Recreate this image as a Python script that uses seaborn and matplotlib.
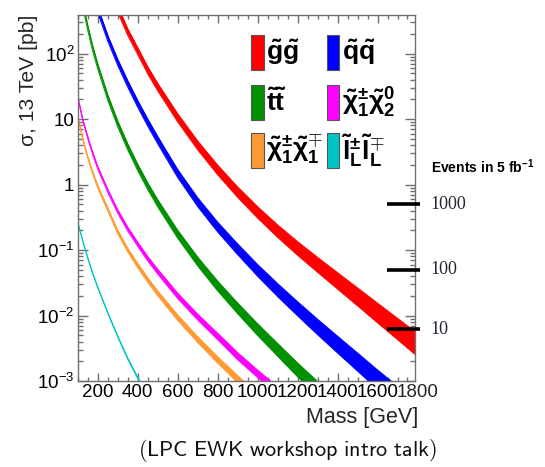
import matplotlib
matplotlib.use("Agg")
import matplotlib.pyplot as plt
import matplotlib.transforms as mtransforms
import seaborn as sns
from matplotlib.patches import Rectangle
from matplotlib.ticker import FixedLocator, FixedFormatter, MultipleLocator, LogLocator, NullFormatter

# ---- cross sections at 13 TeV [pb]; band = multiplicative half-width ----
mass_gg = [250, 300, 350, 400, 450, 500, 600, 700, 800, 900, 1000, 1100, 1200, 1300, 1400, 1500, 1600, 1700, 1800]
xs_gg = [1150, 480, 215, 110, 56, 31, 10.5, 3.98, 1.68, 0.767, 0.376, 0.195, 0.106, 0.0596, 0.0339, 0.0193, 0.01096, 0.00624, 0.00355]
band_gg = [1.122, 1.122, 1.127, 1.132, 1.138, 1.143, 1.156, 1.170, 1.186, 1.202, 1.222, 1.245, 1.271, 1.300, 1.334, 1.371, 1.413, 1.455, 1.500]

mass_qq = [150, 200, 250, 300, 350, 400, 450, 500, 600, 700, 800, 900, 1000, 1100, 1200, 1300, 1400, 1500, 1600, 1700]
xs_qq = [1900, 470, 174, 74, 34.7, 17.2, 8.9, 4.8, 1.48, 0.54, 0.225, 0.103, 0.049, 0.0245, 0.0127, 0.0067, 0.0036, 0.00195, 0.00105, 0.00058]
band_qq = [1.109, 1.109, 1.114, 1.119, 1.125, 1.130, 1.135, 1.140, 1.153, 1.169, 1.189, 1.208, 1.230, 1.256, 1.282, 1.312, 1.343, 1.374, 1.406, 1.439]

mass_tt = [100, 125, 150, 175, 200, 250, 300, 350, 400, 450, 500, 600, 700, 800, 900, 1000, 1100, 1200, 1300]
xs_tt = [1520, 575, 250, 120, 64.5, 21.6, 8.5, 3.79, 1.84, 0.95, 0.52, 0.175, 0.067, 0.0283, 0.0129, 0.0061, 0.0030, 0.00148, 0.00076]
band_tt = [1.096, 1.096, 1.096, 1.099, 1.102, 1.107, 1.112, 1.117, 1.122, 1.130, 1.138, 1.153, 1.170, 1.189, 1.208, 1.230, 1.253, 1.276, 1.300]

mass_c1n2 = [100, 125, 150, 175, 200, 250, 300, 350, 400, 450, 500, 600, 700, 800, 900, 1000, 1100]
xs_c1n2 = [22, 9.8, 5.25, 3.0, 1.82, 0.81, 0.39, 0.21, 0.123, 0.074, 0.047, 0.020, 0.0095, 0.0048, 0.0024, 0.00129, 0.00071]
band_c1n2 = [1.035, 1.035, 1.042, 1.047, 1.052, 1.059, 1.067, 1.072, 1.079, 1.084, 1.091, 1.10, 1.11, 1.12, 1.135, 1.14, 1.15]

mass_c1c1 = [100, 125, 150, 175, 200, 250, 300, 350, 400, 450, 500, 600, 700, 800, 900, 1000]
xs_c1c1 = [11.2, 5.0, 2.63, 1.51, 0.93, 0.42, 0.19, 0.100, 0.058, 0.035, 0.0219, 0.0093, 0.0043, 0.0021, 0.00107, 0.00056]
band_c1c1 = [1.035, 1.035, 1.042, 1.047, 1.052, 1.059, 1.067, 1.072, 1.079, 1.084, 1.091, 1.10, 1.11, 1.12, 1.135, 1.14]

mass_slep = [100, 125, 150, 175, 200, 250, 300, 350, 400, 450]
xs_slep = [0.27, 0.138, 0.076, 0.044, 0.027, 0.011, 0.0048, 0.0022, 0.00112, 0.00058]
band_slep = [1.015, 1.015, 1.015, 1.02, 1.02, 1.02, 1.025, 1.025, 1.03, 1.03]

labels = [r"$\mathbf{\tilde{g}\tilde{g}}$", r"$\mathbf{\tilde{q}\tilde{q}}$",
          r"$\mathbf{\tilde{t}\tilde{t}}$", r"$\mathbf{\tilde{\chi}^{\pm}_{1}\tilde{\chi}^{0}_{2}}$",
          r"$\mathbf{\tilde{\chi}^{\pm}_{1}\tilde{\chi}^{\mp}_{1}}$", r"$\mathbf{\tilde{l}^{\pm}_{L}\tilde{l}^{\mp}_{L}}$"]
colors = ["#ff0000", "#0000ff", "#009000", "#ff00ff", "#ff9933", "#00c4c4"]

# events-per-5/fb reference marks
event_counts = ["1000", "100", "10"]
event_xsec = [0.5, 0.05, 0.0062]

y_ticks = [1e-3, 1e-2, 1e-1, 1, 10, 100]
y_ticklabels = [r"$10^{-3}$", r"$10^{-2}$", r"$10^{-1}$", "1", "10", r"$10^{2}$"]

sns.set_theme(style="ticks")
plt.rcParams["font.family"] = ["Liberation Sans", "DejaVu Sans"]
plt.rcParams["mathtext.fontset"] = "custom"
plt.rcParams["mathtext.rm"] = "Liberation Sans"
plt.rcParams["mathtext.it"] = "Liberation Sans:italic"
plt.rcParams["mathtext.bf"] = "Liberation Sans:bold"
plt.rcParams["mathtext.sf"] = "Liberation Sans"

fig = plt.figure(figsize=(5.45, 4.67), dpi=100)
ax = fig.add_axes([0.1426, 0.1842, 0.6183, 0.7843])

series = [
    (mass_gg, xs_gg, band_gg),
    (mass_qq, xs_qq, band_qq),
    (mass_tt, xs_tt, band_tt),
    (mass_c1n2, xs_c1n2, band_c1n2),
    (mass_c1c1, xs_c1c1, band_c1c1),
    (mass_slep, xs_slep, band_slep),
]

for (m, xs, bd), c in zip(series, colors):
    hi = [x * b for x, b in zip(xs, bd)]
    lo = [x / b for x, b in zip(xs, bd)]
    ax.fill_between(m, lo, hi, color=c, lw=0, zorder=2)
    sns.lineplot(x=m, y=hi, color=c, lw=0.7, ax=ax, zorder=2)
    sns.lineplot(x=m, y=lo, color=c, lw=0.7, ax=ax, zorder=2)

ax.set_yscale("log")
ax.set_xlim(100, 1786)
ax.set_ylim(1e-3, 10 ** 2.595)

# axis styling
frame_c = "#707070"
for s in ax.spines.values():
    s.set_color(frame_c)
    s.set_linewidth(1.0)
ax.xaxis.set_major_locator(MultipleLocator(200))
ax.xaxis.set_minor_locator(MultipleLocator(50))
ax.yaxis.set_major_locator(FixedLocator(y_ticks))
ax.yaxis.set_major_formatter(FixedFormatter(y_ticklabels))
ax.yaxis.set_minor_locator(LogLocator(base=10, subs=range(2, 10)))
ax.yaxis.set_minor_formatter(NullFormatter())
ax.tick_params(axis="both", which="both", direction="in", top=True, right=True,
               color=frame_c, labelsize=13.5, labelcolor="black", pad=2.5)
ax.tick_params(axis="x", which="major", length=6, width=1)
ax.tick_params(axis="x", which="minor", length=3, width=1)
ax.tick_params(axis="y", which="major", length=7.5, width=1)
ax.tick_params(axis="y", which="minor", length=3.8, width=1)

# the 1800 label sits just past the frame edge
lab_tr = mtransforms.offset_copy(ax.get_xaxis_transform(), fig=fig, y=-2.5, units="points")
ax.text(1800, 0, "1800", transform=lab_tr, ha="center", va="top", fontsize=13.5, clip_on=False)

ax.set_xlabel("Mass [GeV]", fontsize=15.5, loc="right")
ax.xaxis.set_label_coords(1.012, -0.07)
ax.set_ylabel("σ, 13 TeV [pb]", fontsize=15.2, loc="top")
ax.yaxis.set_label_coords(-0.118, 1.0)

# legend boxes
box_w, box_h = 0.0375, 0.0955
col_x = [0.5144, 0.7383]
row_y = [0.849, 0.7125, 0.5815]
for i, (lab, c) in enumerate(zip(labels, colors)):
    cx = col_x[i % 2]
    ry = row_y[i // 2]
    ax.add_patch(Rectangle((cx, ry), box_w, box_h, transform=ax.transAxes,
                           facecolor=c, edgecolor="#555555", lw=0.8, zorder=6))
    ax.text(cx + box_w + 0.008, ry + box_h / 2, lab, transform=ax.transAxes,
            ha="left", va="center", fontsize=19, color="black", zorder=6)

# events scale on the right
ax.hlines(event_xsec, 1645, 1812, colors="black", lw=2.6, clip_on=False, zorder=7)
for n, y in zip(event_counts, event_xsec):
    ax.annotate(n, xy=(1.0, y), xycoords=("axes fraction", "data"),
                xytext=(11, 0), textcoords="offset points", ha="left", va="center",
                fontsize=13, family="Liberation Serif", color="#262633", annotation_clip=False)
ax.annotate(r"Events in 5 fb$^{\mathbf{-1}}$", xy=(1.0, 0.584), xycoords="axes fraction",
            xytext=(12, 0), textcoords="offset points", ha="left", va="center",
            fontsize=10, fontweight="bold", color="black", annotation_clip=False)

fig.text(0.528, 0.036, r"$\mathsf{(LPC\ EWK\ workshop\ intro\ talk)}$", ha="center", va="center",
         fontsize=16, math_fontfamily="cm", color="#111111")

fig.savefig("out.png", dpi=100)
